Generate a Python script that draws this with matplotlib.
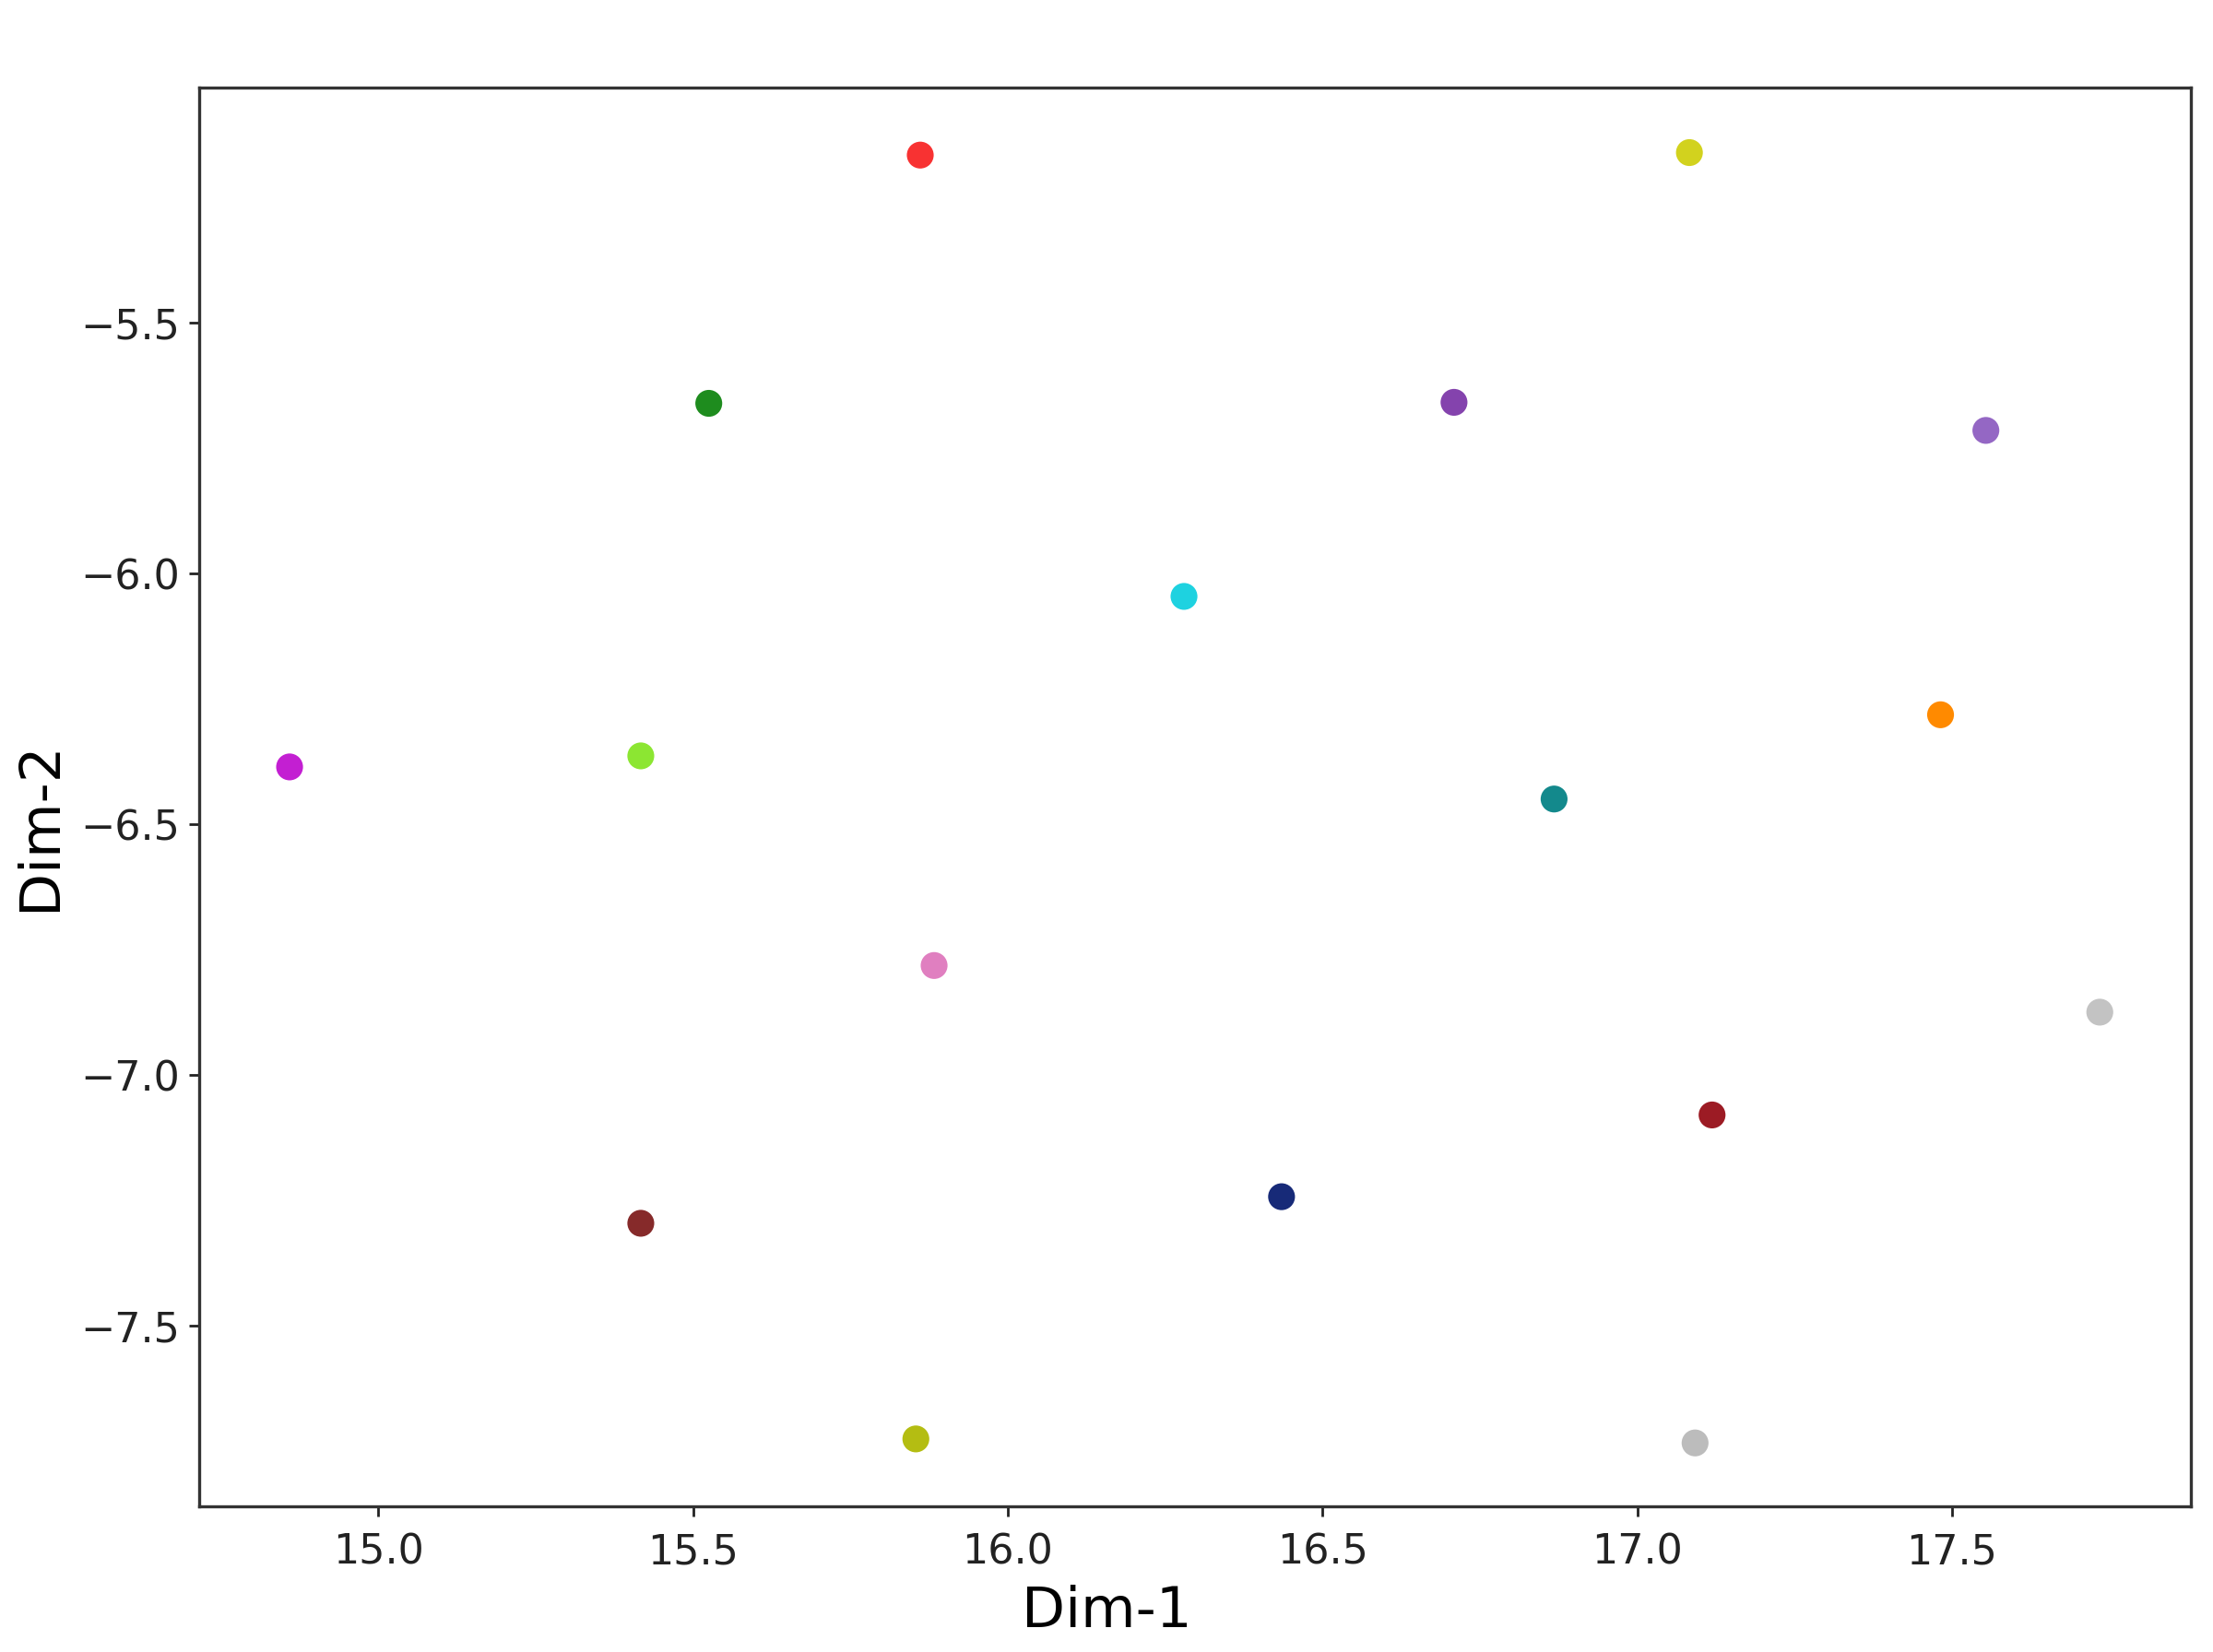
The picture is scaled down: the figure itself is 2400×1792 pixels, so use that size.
import matplotlib
matplotlib.use('Agg')
import matplotlib.pyplot as plt

# embedding coordinates
dim1 = [15.861, 17.083, 15.525, 16.709, 17.554, 16.280, 14.859, 15.417, 17.482,
        16.868, 15.883, 17.735, 17.119, 16.435, 15.417, 15.854, 17.092]
dim2 = [-5.165, -5.160, -5.660, -5.658, -5.714, -6.045, -6.385, -6.363, -6.281,
        -6.449, -6.781, -6.874, -7.079, -7.242, -7.295, -7.725, -7.733]
colors = ['#f83232', '#d2d21e', '#1e8c1e', '#8443ad', '#9467c4', '#1ed2e0',
          '#c31fd2', '#8ce632', '#ff8a00', '#13898c', '#e07fc0', '#c3c3c3',
          '#9c1b24', '#172a78', '#862a2a', '#b4bd12', '#bcbcbc']

fig = plt.figure(figsize=(12, 8.96), dpi=200)
ax = fig.add_axes([0.0899, 0.0880, 0.8999, 0.8591])

ax.scatter(dim1, dim2, c=colors, s=110, linewidths=0, zorder=3)

ax.set_xlim(14.715, 17.879)
ax.set_ylim(-7.86, -5.03)
ax.set_xticks([15.0, 15.5, 16.0, 16.5, 17.0, 17.5])
ax.set_yticks([-7.5, -7.0, -6.5, -6.0, -5.5])

for s in ax.spines.values():
    s.set_color('#333333')
    s.set_linewidth(1.2)
ax.tick_params(labelsize=16, length=4, width=1, colors='#222222')
ax.tick_params(axis='x', pad=6)

ax.set_xlabel('Dim-1', fontsize=22)
ax.set_ylabel('Dim-2', fontsize=22)
ax.xaxis.set_label_coords(0.456, -0.055)
ax.yaxis.set_label_coords(-0.066, 0.48)

plt.savefig('out.png', dpi=200)
